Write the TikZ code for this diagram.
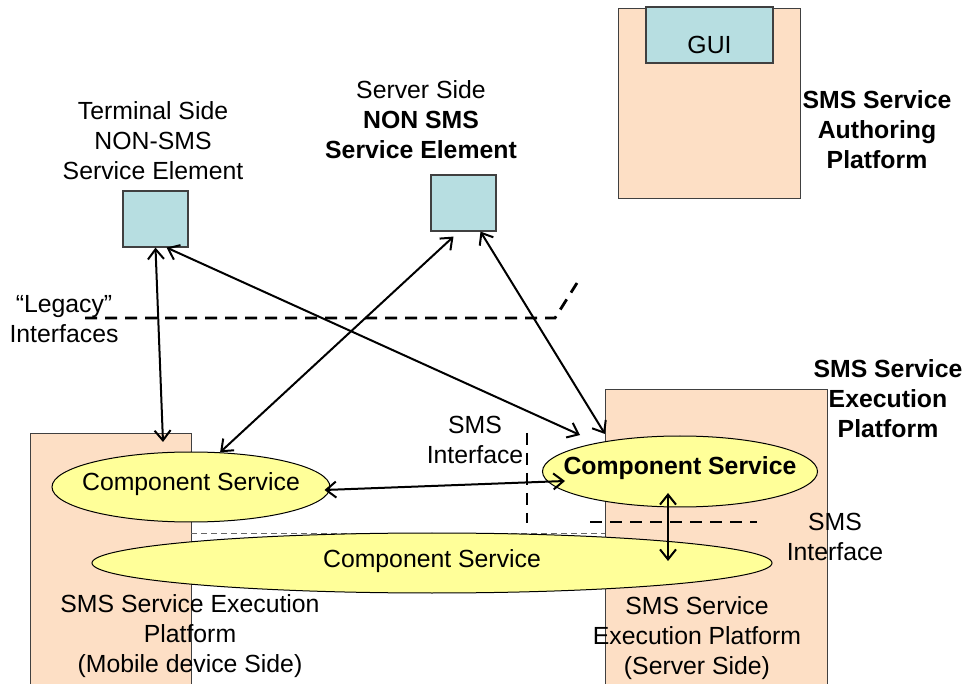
\documentclass[tikz,border=0pt]{standalone}
\usepackage{fontspec}
\setmainfont{Liberation Sans}
\usetikzlibrary{arrows.meta,calc,positioning,shapes.geometric}

\definecolor{platfill}{RGB}{253,223,197}
\definecolor{elemfill}{RGB}{183,222,225}
\definecolor{compfill}{RGB}{255,255,153}

\tikzset{
  plat/.style={draw=black!75, fill=platfill, line width=0.5pt, inner sep=0pt},
  elem/.style={draw=black!75, fill=elemfill, line width=0.6pt, inner sep=0pt, minimum width=32.5pt, minimum height=28pt},
  comp/.style={ellipse, draw=black, fill=compfill, line width=0.5pt, inner sep=0pt},
  conn/.style={<->, line width=1pt},
  iface/.style={line width=1.4pt, dash pattern=on 6pt off 4pt},
  lbl/.style={inner sep=0pt, align=center},
}

\begin{document}
\begin{tikzpicture}[x=0.5pt,y=-0.5pt,>={Straight Barb[length=5pt,width=8pt]},
    font=\fontsize{12.4}{15}\selectfont]
	\useasboundingbox (0,0) rectangle (965,684);
	\clip (0,0) rectangle (965,684);

	% platforms
	\node[plat, minimum width=80.5pt, minimum height=128pt] (mobplat) at (110.5,562) {};
	\node[plat, minimum width=111pt, minimum height=155pt] (srvplat) at (716,545) {};
	\node[plat, minimum width=91pt, minimum height=95pt] (authplat) at (709,104) {};
	\node[elem, minimum width=63.5pt] (gui) at (709.5,35) {};
	\node[lbl] (guilbl) at (709.5,45) {GUI};

	% non sms elements
	\node[elem] (term) at (155.5,219) {};
	\node[elem] (nsrv) at (463.5,203) {};

	% component services
	\node[comp, minimum width=139pt, minimum height=35pt] (cs1) at (191,487) {};
	\node[lbl] (cs1lbl) at (191,484) {Component Service};
	\draw[black!60, densely dashed, line width=0.4pt] (191,533) -- (605,533);
	\node[comp, minimum width=340pt, minimum height=30pt] (cs3) at (432,563) {};
	\node[lbl] (cs3lbl) at (432,561) {Component Service};
	\node[comp, minimum width=137.5pt, minimum height=35.5pt] (cs2) at (680,471.5) {};
	\node[lbl, font=\fontsize{12.4}{15}\selectfont\bfseries] (cs2lbl) at (680,468) {Component Service};

	% interfaces
	\draw[iface] (85,318) -- (555,318) -- (577,283);
	\draw[iface] (527,433) -- (527,523);
	\draw[iface] (590,522) -- (757,522);

	% labels
	\node[lbl] (termlbl) at (153,141) {Terminal Side\\NON-SMS\\Service Element};
	\node[lbl] (nsrvlbl) at (421,120) {Server Side\\\textbf{NON SMS}\\\textbf{Service Element}};
	\node[lbl, font=\fontsize{12.4}{15}\selectfont\bfseries] (authlbl) at (877,130) {SMS Service\\Authoring\\Platform};
	\node[lbl, font=\fontsize{12.4}{15}\selectfont\bfseries] (execlbl) at (888,399) {SMS Service\\Execution\\Platform};
	\node[lbl] (legacylbl) at (64,319) {``Legacy''\\Interfaces};
	\node[lbl] (smsif1) at (475,440) {SMS\\Interface};
	\node[lbl] (smsif2) at (835,537) {SMS\\Interface};
	\node[lbl] (moblbl) at (190,636) {SMS Service Execution\\Platform\\(Mobile device Side)};
	\node[lbl] (srvlbl) at (697,638) {SMS Service\\Execution Platform\\(Server Side)};

	% connectors
	\coordinate (mobin) at (163,442);
	\coordinate (srvin) at (580,435);
	\coordinate (srvedge) at (605,434);
	\coordinate (cs2in) at (565,481);
	\coordinate (cs2dn) at (668,493);
	\coordinate (cs3up) at (668,561);
	\draw[conn] (term.south) -- (mobin);
	\draw[conn] ([xshift=-11pt]term.south east) -- (srvin);
	\draw[conn] ([xshift=-5pt,yshift=-2.5pt]nsrv.south) -- (cs1.50);
	\draw[conn] ([xshift=8.5pt]nsrv.south) -- (srvedge);
	\draw[conn] ([xshift=-3pt,yshift=-1.5pt]cs1.east) -- (cs2in);
	\draw[conn] (cs2dn) -- (cs3up);
\end{tikzpicture}
\end{document}
